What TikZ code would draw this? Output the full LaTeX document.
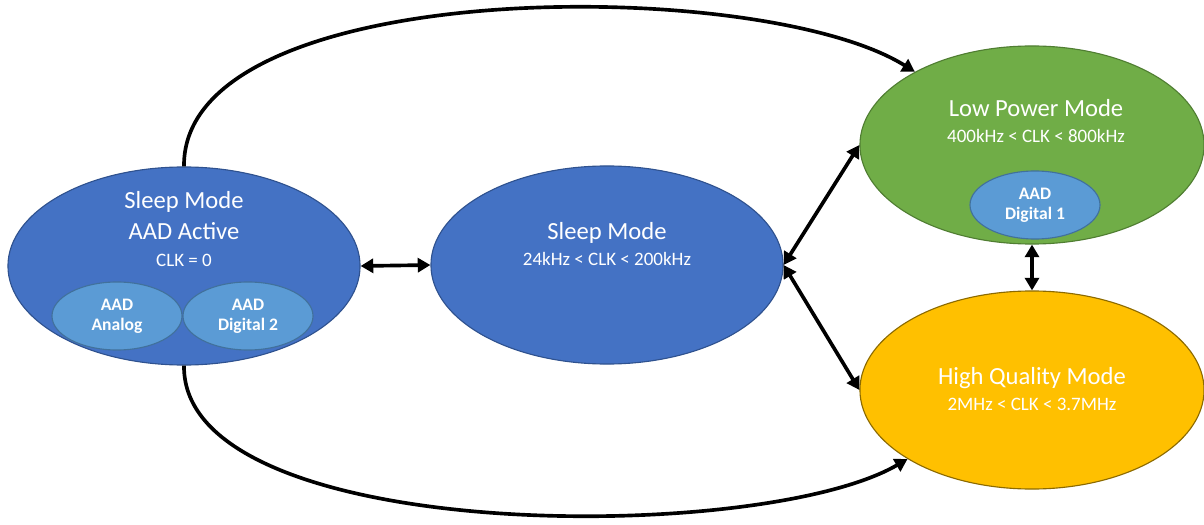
\documentclass[tikz,border=0pt]{standalone}
\usepackage{fontspec}
\setmainfont{Carlito}
\usetikzlibrary{shapes}
\usetikzlibrary{arrows.meta}
\definecolor{modeblue}{HTML}{4472C4}
\definecolor{modebluedk}{HTML}{2F528F}
\definecolor{aadblue}{HTML}{5B9BD5}
\definecolor{aadbluedk}{HTML}{41719C}
\definecolor{modegreen}{HTML}{70AD47}
\definecolor{modegreendk}{HTML}{507E32}
\definecolor{modegold}{HTML}{FFC000}
\definecolor{modegolddk}{HTML}{8C6A00}
\newcommand{\clkfont}{\fontsize{13.5}{16}\selectfont}
\tikzset{
    modeb/.style = {ellipse, draw=modebluedk, fill=modeblue, line width=0.8pt, minimum width=8.8cm, minimum height=4.95cm, inner sep=0pt},
    modeg/.style = {ellipse, draw=modegreendk, fill=modegreen, line width=0.8pt, minimum width=8.6cm, minimum height=4.95cm, inner sep=0pt},
    modey/.style = {ellipse, draw=modegolddk, fill=modegold, line width=0.8pt, minimum width=8.6cm, minimum height=4.95cm, inner sep=0pt},
    aadnode/.style = {ellipse, draw=aadbluedk, fill=aadblue, line width=0.8pt, minimum width=3.25cm, minimum height=1.7cm, inner sep=0pt,
        align=center, text=white, font=\fontsize{12.5}{14.5}\selectfont\bfseries},
    modetxt/.style = {align=center, text=white, inner sep=0pt, font=\fontsize{17.5}{22}\selectfont},
    edgea/.style = {{Triangle[length=9pt,width=10pt]}-{Triangle[length=9pt,width=10pt]}, line width=2.6pt, black},
    edgec/.style = {-{Triangle[length=9pt,width=10pt]}, line width=2.6pt, black}
}
\begin{document}
\begin{tikzpicture}[x=0.025cm,y=-0.025cm]
\path[use as bounding box] (0,0) rectangle (1204,525);
%
\node[modeb] at (184,266) (sla) {};
\node[modeb] at (607,265) (slp) {};
\node[modeg] at (1032,145) (lp) {};
\node[modey] at (1032,390) (hq) {};
%
\node[aadnode] at (117,316) (ana) {AAD\\Analog};
\node[aadnode] at (248,316) (dig2) {AAD\\Digital 2};
\node[aadnode] at (1035,205) (dig1) {AAD\\Digital 1};
%
\node[modetxt] at (184,229) (slatxt) {Sleep Mode\\AAD Active\\[-3pt]{\clkfont CLK = 0}};
\node[modetxt] at (607,244) (slptxt) {Sleep Mode\\[-4pt]{\clkfont 24kHz < CLK < 200kHz}};
\node[modetxt] at (1036,121) (lptxt) {Low Power Mode\\[-4pt]{\clkfont 400kHz < CLK < 800kHz}};
\node[modetxt] at (1032,389) (hqtxt) {High Quality Mode\\[-4pt]{\clkfont 2MHz < CLK < 3.7MHz}};
%
\draw[edgea] (sla.east) -- (slp.west);
\draw[edgea] (slp.east) -- (lp.west);
\draw[edgea] (slp.east) -- (hq.west);
\draw[edgea] (lp.south) -- (hq.north);
\draw[edgec] (sla.north) .. controls (182,-25) and (760,-25) .. (lp.148);
\draw[edgec] (sla.south) .. controls (182,545) and (760,545) .. (hq.209);

\end{tikzpicture}
\end{document}
